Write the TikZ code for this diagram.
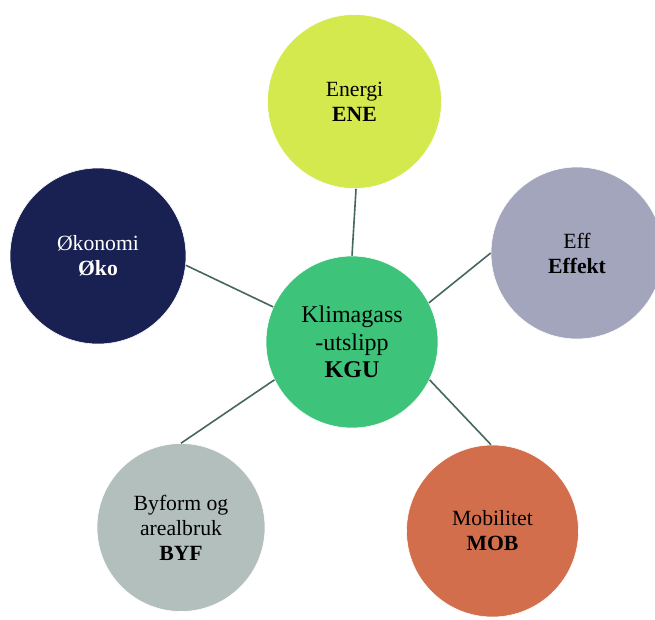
\documentclass[tikz,border=0pt]{standalone}
\usepackage{fontspec}
\setmainfont{Liberation Serif}
\definecolor{linkcol}{HTML}{46675F}
\definecolor{enecol}{HTML}{D4E94D}
\definecolor{okocol}{HTML}{192052}
\definecolor{effcol}{HTML}{A3A5BD}
\definecolor{kgucol}{HTML}{3EC47A}
\definecolor{byfcol}{HTML}{B3BFBD}
\definecolor{mobcol}{HTML}{D26E4C}
\tikzset{
  topic/.style={circle, inner sep=0pt, draw=white, line width=0.6pt,
    align=center, font=\fontsize{21.7}{25}\selectfont},
  hub/.style={topic, font=\fontsize{24}{27.5}\selectfont},
  link/.style={draw=linkcol, line width=1.6pt}
}
\begin{document}
\begin{tikzpicture}[x=1pt,y=-1pt]
  \useasboundingbox (0,0) rectangle (655,619);
  \clip (0,0) rectangle (655,619);
  \fill[white] (0,0) rectangle (655,619);

  % central hub
  \node[hub, fill=kgucol, minimum size=172pt] (kgu) at (352,342)
    {Klimagass\\-utslipp\\\textbf{KGU}};

  % surrounding topics
  \node[topic, fill=enecol, minimum size=174pt] (ene) at (354.5,101.5)
    {Energi\\\textbf{ENE}};
  \node[topic, fill=okocol, text=white, minimum size=176pt] (oko) at (98,256)
    {Økonomi\\\textbf{Øko}};
  \node[topic, fill=effcol, minimum size=172pt] (eff) at (577,253)
    {Eff\\\textbf{Effekt}};
  \node[topic, fill=byfcol, minimum size=168pt] (byf) at (181,527.5)
    {Byform og\\arealbruk\\\textbf{BYF}};
  \node[topic, fill=mobcol, minimum size=172pt] (mob) at (492.5,531)
    {Mobilitet\\\textbf{MOB}};

  % connectors
  \draw[link] (ene.-89) -- (kgu.90);
  \draw[link] (oko.-6) -- (kgu.156);
  \draw[link] (eff.180) -- (kgu.27);
  \draw[link] (byf.90) -- (kgu.206);
  \draw[link] (mob.91) -- (kgu.-26);
\end{tikzpicture}
\end{document}
